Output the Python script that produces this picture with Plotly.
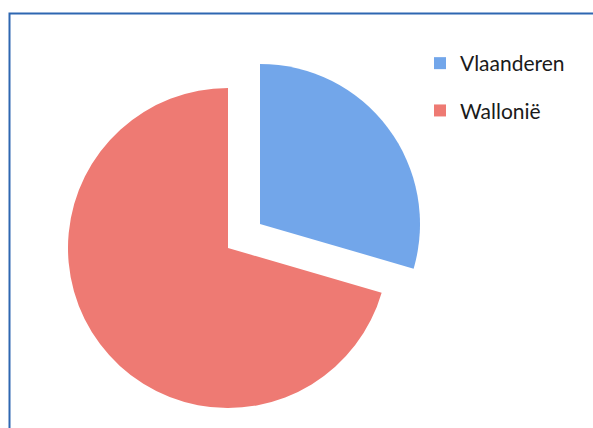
import plotly.graph_objects as go

labels = ["Vlaanderen", "Wallonië"]
values = [29.5, 70.5]
colors = ["#72A6EA", "#EE7A73"]

W, H = 593, 428

def px_domain(cx, cy, r):
    return dict(x=[(cx - r) / W, (cx + r) / W], y=[1 - (cy + r) / H, 1 - (cy - r) / H])

fig = go.Figure()

# main (non-exploded) slice
fig.add_trace(go.Pie(
    labels=labels, values=values, sort=False, direction="clockwise", rotation=0,
    marker=dict(colors=["rgba(0,0,0,0)", colors[1]], line=dict(width=0)),
    textinfo="none", showlegend=False, hoverinfo="label+percent",
    domain=px_domain(228, 248, 160),
))
# exploded slice
fig.add_trace(go.Pie(
    labels=labels, values=values, sort=False, direction="clockwise", rotation=0,
    marker=dict(colors=[colors[0], "rgba(0,0,0,0)"], line=dict(width=0)),
    textinfo="none", showlegend=False, hoverinfo="label+percent",
    domain=px_domain(260, 224, 160),
))

# legend entries
for lab, col in zip(labels, colors):
    fig.add_trace(go.Scatter(
        x=[None], y=[None], mode="markers", name=lab, legendgroup=lab,
        marker=dict(symbol="square", size=12, color=col),
    ))

fig.update_layout(
    width=W, height=H, autosize=False,
    margin=dict(l=0, r=0, t=0, b=0),
    paper_bgcolor="white", plot_bgcolor="white",
    xaxis=dict(visible=False), yaxis=dict(visible=False),
    font=dict(family="Lato, Calibri, sans-serif", size=21, color="#1a1a1a"),
    legend=dict(x=420 / W, y=1 - 43 / H, xanchor="left", yanchor="top",
                tracegroupgap=17, bgcolor="rgba(0,0,0,0)", itemclick=False),
    shapes=[dict(type="rect", xref="paper", yref="paper",
                 x0=9.5 / W, x1=1.3, y0=-0.3, y1=1 - 13.5 / H,
                 line=dict(color="#2E67B1", width=2), fillcolor="rgba(0,0,0,0)",
                 layer="below")],
)

fig.write_html(
    "out.html",
    config={"displayModeBar": False},
    post_script="document.body.style.margin='0';document.body.style.overflow='hidden';"
                "document.documentElement.style.overflow='hidden';",
)
